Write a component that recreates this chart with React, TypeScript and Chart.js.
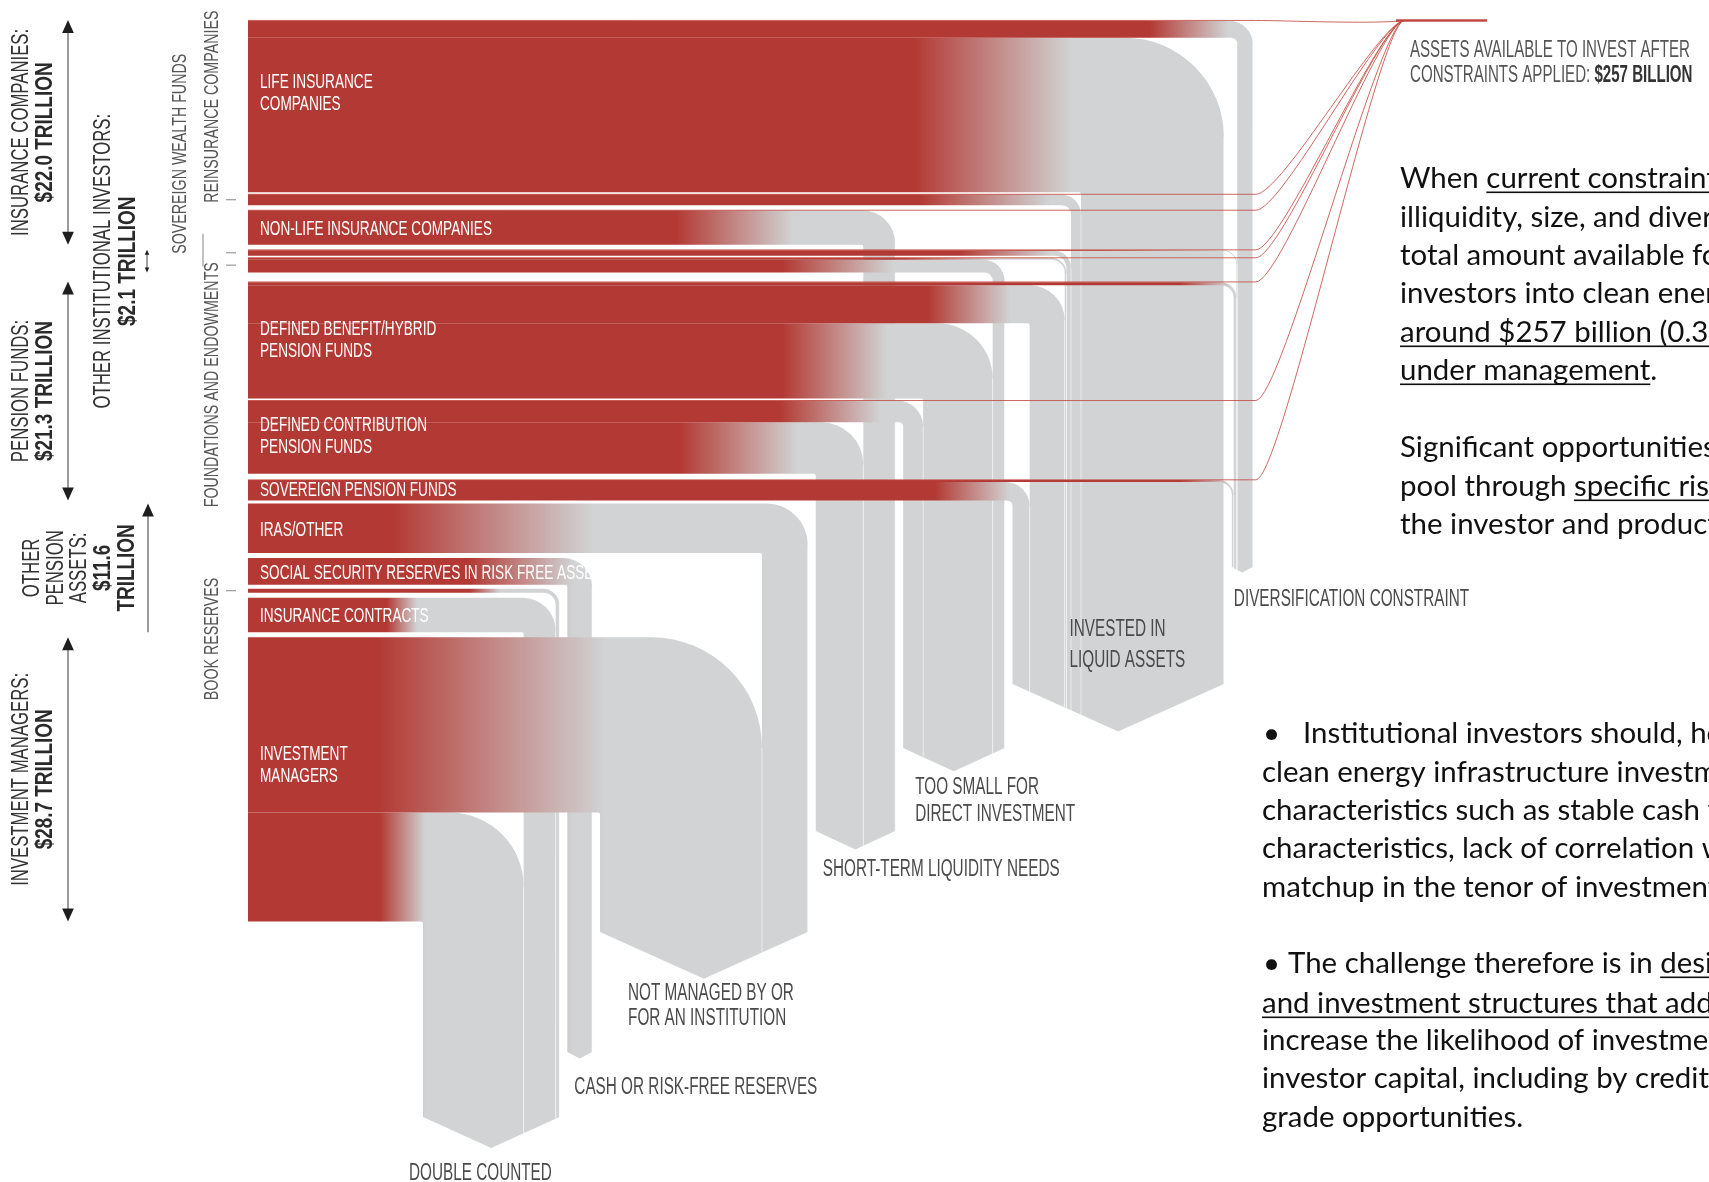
import React, { useEffect, useRef } from "react";
import { Chart, registerables } from "chart.js";

Chart.register(...registerables);

// ---------------- DATA (US$ trillion) ----------------
const sourceLabels = [
  "LIFE INSURANCE\nCOMPANIES",
  "REINSURANCE COMPANIES",
  "NON-LIFE INSURANCE COMPANIES",
  "SOVEREIGN WEALTH FUNDS",
  "FOUNDATIONS AND ENDOWMENTS",
  "DEFINED BENEFIT/HYBRID\nPENSION FUNDS",
  "DEFINED CONTRIBUTION\nPENSION FUNDS",
  "SOVEREIGN PENSION FUNDS",
  "IRAS/OTHER",
  "SOCIAL SECURITY RESERVES IN RISK FREE ASSETS",
  "BOOK RESERVES",
  "INSURANCE CONTRACTS",
  "INVESTMENT\nMANAGERS",
];
const sourceValues = [17.4, 1.1, 3.5, 0.6, 1.5, 11.8, 7.4, 2.1, 5.0, 2.7, 0.4, 3.5, 28.7];

const sinkLabels = [
  "DOUBLE COUNTED",
  "CASH OR RISK-FREE RESERVES",
  "NOT MANAGED BY OR\nFOR AN INSTITUTION",
  "SHORT-TERM LIQUIDITY NEEDS",
  "TOO SMALL FOR\nDIRECT INVESTMENT",
  "INVESTED IN\nLIQUID ASSETS",
  "DIVERSIFICATION CONSTRAINT",
];

// flows into each constraint, one value per source (same order as sourceValues)
const doubleCounted = [0, 0, 0, 0, 0, 0, 0, 0, 0, 0, 0.4, 3.5, 11.0];
const cashReserves = [0, 0, 0, 0, 0, 0, 0, 0, 0, 2.7, 0, 0, 0];
const notManaged = [0, 0, 0, 0, 0, 0, 0, 0, 5.0, 0, 0, 0, 17.7];
const shortTermLiquidity = [0, 0, 3.48, 0, 0, 0, 5.2, 0, 0, 0, 0, 0, 0];
const tooSmall = [0, 0, 0, 0, 1.3, 7.6, 2.18, 0, 0, 0, 0, 0, 0];
const liquidAssets = [15.613, 1.09, 0, 0.5, 0.19, 3.83, 0, 1.87, 0, 0, 0, 0, 0];
const diversification = [1.7, 0, 0, 0.09, 0, 0.3, 0, 0.2, 0, 0, 0, 0, 0];
const available = [0.087, 0.01, 0.02, 0.01, 0.01, 0.07, 0.02, 0.03, 0, 0, 0, 0, 0];

const groupLabels = [
  "INSURANCE COMPANIES:",
  "OTHER INSTITUTIONAL INVESTORS:",
  "PENSION FUNDS:",
  "OTHER PENSION ASSETS:",
  "INVESTMENT MANAGERS:",
];
const groupTotals = ["$22.0 TRILLION", "$2.1 TRILLION", "$21.3 TRILLION", "$11.6 TRILLION", "$28.7 TRILLION"];
const groupFirstSource = [0, 3, 5, 8, 12];
const groupLastSource = [2, 4, 7, 11, 12];

const availableTitle = "ASSETS AVAILABLE TO INVEST AFTER";
const availablePrefix = "CONSTRAINTS APPLIED: ";
const availableTotal = "$257 BILLION";

// ---------------- LAYOUT / STYLE ----------------
const W = 1709;
const H = 1182;
const PX_PER_T_X = 9.15;
const PX_PER_T_Y = 9.9;
const ROW_TOP_PX = 20;
const ROW_LEFT_PX = 248;
const COL_LEFT_PX = 423;
const COL_GAP_PX = 8;
const ROW_GAP_PX = [0, 2, 5, 5, 2, 9, 2, 6, 3, 5, 4, 5, 5];
const SINK_BOTTOM_PX = [1117, 1052, 932, 831, 748, 684, 567];
const SINK_LABEL_DX = [-14, 7, 28, 7, 12, 57, 2];
const SINK_LABEL_DY = [32, 36, 21, 27, 23, -95, 33];
const SINK_LINE_H = [27, 27, 25, 27, 27, 31, 27];
const ROW_LABEL_DY = [-15, 0, 0, 0, 0, -2, -3, -2, 0, 0, 0, 0, -16];
const SIDE_LABELS: Record<number, { x: number; dy: number; align: CanvasTextAlign }> = {
  1: { x: 212, dy: 3, align: "left" },
  3: { x: 180, dy: 1, align: "left" },
  4: { x: 212, dy: -3, align: "right" },
  10: { x: 212, dy: -13, align: "right" },
};
const GROUP_LINE_X = [[22, 46], [104, 129], [22, 46], [33, 57, 80, 104, 128], [22, 46]];
const GROUP_WRAP = [false, false, false, true, false];
const GROUP_ARROW_X = [68, 147, 68, 148, 68];
const GROUP_ARROW_HEADS = [[true, true], [true, true], [true, true], [true, false], [true, true]];
const FADE_PX: Record<string, [number, number]> = {
  "0:5": [915, 1071], "0:6": [1150, 1228],
  "1:5": [920, 1050],
  "2:3": [677, 793],
  "3:5": [960, 1050], "3:6": [1100, 1220],
  "4:4": [783, 893], "4:5": [900, 1000],
  "5:4": [783, 887], "5:5": [928, 1010], "5:6": [1180, 1230],
  "6:3": [680, 797], "6:4": [780, 880],
  "7:5": [935, 1010], "7:6": [1180, 1230],
  "8:2": [393, 593],
  "9:1": [470, 573],
  "10:0": [470, 500],
  "11:0": [387, 417],
  "12:0": [380, 425], "12:2": [378, 605],
};
const CONV_X = 1404;
const END_X = 1487;
const RED = "#b33a34";
const GRAY = "#d1d3d4";
const LINE_RED = "rgba(196, 78, 70, 0.85)";
const CONDENSED = "'Liberation Sans Narrow', 'Liberation Sans', 'DejaVu Sans Condensed', sans-serif";
const BODY = "Lato, 'Open Sans', sans-serif";

type Seg = [string, boolean];
const notes: { x: number; y: number; segs: Seg[] }[] = [
  { x: 1400, y: 188, segs: [["When ", false], ["current constraints such as", true]] },
  { x: 1400, y: 227, segs: [["illiquidity, size, and diversification are", false]] },
  { x: 1400, y: 265, segs: [["total amount available for direct", false]] },
  { x: 1400, y: 303, segs: [["investors into clean energy projects", false]] },
  { x: 1400, y: 342, segs: [["around $257 billion (0.3% of assets", true]] },
  { x: 1400, y: 380, segs: [["under management", true], [".", false]] },
  { x: 1400, y: 457, segs: [["Significant opportunities exist", false]] },
  { x: 1400, y: 496, segs: [["pool through ", false], ["specific risk mitigation", true]] },
  { x: 1400, y: 534, segs: [["the investor and product level.", false]] },
  { x: 1263, y: 743, segs: [["•", false]] },
  { x: 1303, y: 743, segs: [["Institutional investors should, however,", false]] },
  { x: 1262, y: 782, segs: [["clean energy infrastructure investment", false]] },
  { x: 1262, y: 820, segs: [["characteristics such as stable cash flows", false]] },
  { x: 1262, y: 858, segs: [["characteristics, lack of correlation with", false]] },
  { x: 1262, y: 897, segs: [["matchup in the tenor of investments", false]] },
  { x: 1263, y: 973, segs: [["•", false]] },
  { x: 1288, y: 973, segs: [["The challenge therefore is in ", false], ["designing", true]] },
  { x: 1262, y: 1013, segs: [["and investment structures that address", true]] },
  { x: 1262, y: 1050, segs: [["increase the likelihood of investment", false]] },
  { x: 1262, y: 1088, segs: [["investor capital, including by credit", false]] },
  { x: 1262, y: 1127, segs: [["grade opportunities.", false]] },
];

// ---------------- DRAWING HELPERS ----------------
function calib(ctx: CanvasRenderingContext2D, font: string, s: string, target: number) {
  ctx.save();
  ctx.font = font;
  const w = ctx.measureText(s).width;
  ctx.restore();
  return w > 0 ? target / w : 1;
}

function txt(
  ctx: CanvasRenderingContext2D,
  s: string,
  x: number,
  y: number,
  font: string,
  color: string,
  sx: number,
  align: CanvasTextAlign = "left",
  rot = 0,
  baseline: CanvasTextBaseline = "alphabetic"
) {
  ctx.save();
  ctx.translate(x, y);
  if (rot) ctx.rotate(rot);
  ctx.scale(sx, 1);
  ctx.font = font;
  ctx.fillStyle = color;
  ctx.textAlign = align;
  ctx.textBaseline = baseline;
  ctx.fillText(s, 0, 0);
  const w = ctx.measureText(s).width * sx;
  ctx.restore();
  return w;
}

function arrowHead(ctx: CanvasRenderingContext2D, x: number, y: number, dir: number, size: number) {
  ctx.beginPath();
  ctx.moveTo(x, y);
  ctx.lineTo(x - size * 0.45, y + dir * size);
  ctx.lineTo(x + size * 0.45, y + dir * size);
  ctx.closePath();
  ctx.fillStyle = "#1e1e1e";
  ctx.fill();
}

const dropoffPlugin = {
  id: "dropoff",
  beforeDraw(chart: any) {
    const ctx = chart.ctx as CanvasRenderingContext2D;
    ctx.save();
    ctx.fillStyle = "#ffffff";
    ctx.fillRect(0, 0, chart.width, chart.height);
    ctx.restore();
  },
  afterDraw(chart: any) {
    const ctx = chart.ctx as CanvasRenderingContext2D;
    const xs = chart.scales.x;
    const ys = chart.scales.y;
    const X = (v: number) => xs.getPixelForValue(v);
    const Y = (v: number) => ys.getPixelForValue(v);
    const nS = sourceValues.length;
    const sinkFlows = [doubleCounted, cashReserves, notManaged, shortTermLiquidity, tooSmall, liquidAssets, diversification];

    // rows (in trillion units on the y scale)
    const rowTop: number[] = [];
    const rowBottom: number[] = [];
    let acc = 0;
    for (let i = 0; i < nS; i++) {
      acc += ROW_GAP_PX[i] / PX_PER_T_Y;
      rowTop.push(acc);
      acc += sourceValues[i];
      rowBottom.push(acc);
    }
    // columns (in trillion units on the x scale)
    const sinkTotal = sinkFlows.map((a) => a.reduce((s, v) => s + v, 0));
    const colLeft: number[] = [];
    let cx = 0;
    sinkTotal.forEach((t, k) => {
      if (k > 0) cx += COL_GAP_PX / PX_PER_T_X;
      colLeft.push(cx);
      cx += t;
    });
    const subLeft = sinkFlows.map((arr, k) => {
      const out = new Array(nS).fill(0);
      let c = colLeft[k];
      for (let i = nS - 1; i >= 0; i--) {
        out[i] = c;
        c += arr[i];
      }
      return out;
    });
    const sinkGeo = sinkTotal.map((t, k) => {
      const x0 = X(colLeft[k]);
      const x1 = X(colLeft[k] + t);
      const B = SINK_BOTTOM_PX[k];
      const D = 0.22 * (x1 - x0) + 1;
      const mid = (x0 + x1) / 2;
      const half = (x1 - x0) / 2;
      return { x0, x1, B, D, mid, tip: B + D, bottom: (x: number) => B + D * (1 - Math.abs(x - mid) / half) };
    });

    const L = ROW_LEFT_PX;
    // flows, row by row (lower rows drawn over upper columns)
    for (let i = 0; i < nS; i++) {
      let cursor = rowBottom[i];
      for (let k = 0; k < sinkFlows.length; k++) {
        const f = sinkFlows[k][i];
        if (f <= 0) continue;
        const y1 = Y(cursor);
        const y0 = Y(cursor - f);
        cursor -= f;
        const x0 = X(subLeft[k][i]);
        const x1 = X(subLeft[k][i] + f);
        const g = sinkGeo[k];
        const w = x1 - x0;
        const t = y1 - y0;
        const m = Math.max(w, t);
        const R = 0.55 * m + 14;
        const r = Math.max(2, R - m);
        const fade = FADE_PX[`${i}:${k}`] || [x0 - 130, x0 - 10];
        const grad = ctx.createLinearGradient(fade[0], 0, fade[1], 0);
        grad.addColorStop(0, RED);
        grad.addColorStop(1, GRAY);
        ctx.beginPath();
        ctx.moveTo(L, y0);
        ctx.lineTo(x1 - R, y0);
        ctx.arc(x1 - R, y0 + R, R, -Math.PI / 2, 0);
        ctx.lineTo(x1, g.bottom(x1));
        if (x0 < g.mid && g.mid < x1) ctx.lineTo(g.mid, g.tip);
        ctx.lineTo(x0, g.bottom(x0));
        ctx.lineTo(x0, y1 + r);
        ctx.arc(x0 - r, y1 + r, r, 0, -Math.PI / 2, true);
        ctx.lineTo(L, y1);
        ctx.closePath();
        ctx.fillStyle = grad;
        ctx.fill();
        // faint seam between sub-columns
        ctx.beginPath();
        ctx.moveTo(x1, y0 + R);
        ctx.lineTo(x1, g.bottom(x1));
        ctx.strokeStyle = "rgba(255,255,255,0.55)";
        ctx.lineWidth = 1;
        ctx.stroke();
      }
    }

    // thin lines: assets available after constraints
    const convY = Y(available[0] / 2);
    const turnX = sinkGeo[sinkGeo.length - 1].x1 + 3;
    for (let i = 0; i < nS; i++) {
      const a = available[i];
      if (a <= 0) continue;
      const yl = Y(rowTop[i] + a / 2);
      ctx.beginPath();
      ctx.moveTo(L, yl);
      ctx.lineTo(turnX, yl);
      ctx.bezierCurveTo(turnX + 26, yl, CONV_X - 26, convY + 4, CONV_X, convY);
      ctx.strokeStyle = LINE_RED;
      ctx.lineWidth = 1;
      ctx.stroke();
    }
    ctx.beginPath();
    ctx.moveTo(CONV_X - 8, convY);
    ctx.lineTo(END_X, convY);
    ctx.strokeStyle = "#c04a42";
    ctx.lineWidth = 2.5;
    ctx.stroke();

    // ---- text ----
    const rowFont = `21px ${CONDENSED}`;
    const rowSx = calib(ctx, rowFont, "NON-LIFE INSURANCE COMPANIES", 232);
    const sideFont = `20px ${CONDENSED}`;
    const sideSx = calib(ctx, sideFont, "SOVEREIGN WEALTH FUNDS", 200);
    const grpFont = `23px ${CONDENSED}`;
    const grpBold = `bold 23px ${CONDENSED}`;
    const grpSx = calib(ctx, grpFont, "INVESTMENT MANAGERS:", 213);
    const grpBoldSx = calib(ctx, grpBold, "$28.7 TRILLION", 140);
    const sinkFont = `23px ${CONDENSED}`;
    const sinkSx = calib(ctx, sinkFont, "SHORT-TERM LIQUIDITY NEEDS", 237);
    const availSx = calib(ctx, sinkFont, availableTitle, 280);
    const bodyFont = `28px ${BODY}`;
    const bodySx = calib(ctx, bodyFont, "characteristics such as stable cash", 438);

    // row labels
    for (let i = 0; i < nS; i++) {
      const yc = (Y(rowTop[i]) + Y(rowBottom[i])) / 2;
      if (SIDE_LABELS[i]) {
        const s = SIDE_LABELS[i];
        txt(ctx, sourceLabels[i], s.x, yc + s.dy, sideFont, "#555555", sideSx, s.align, -Math.PI / 2, "middle");
        ctx.beginPath();
        ctx.moveTo(226, yc);
        ctx.lineTo(236, yc);
        ctx.strokeStyle = "#9a9a9a";
        ctx.lineWidth = 1.2;
        ctx.stroke();
        continue;
      }
      const lines = sourceLabels[i].split("\n");
      const c = yc + ROW_LABEL_DY[i];
      lines.forEach((ln, j) => {
        txt(ctx, ln, L + 12, c + 7.5 - (lines.length - 1) * 11 + j * 22, rowFont, "#ffffff", rowSx);
      });
    }
    // small bracket near sovereign wealth funds
    ctx.beginPath();
    ctx.moveTo(203, Y(rowTop[3]) - 16);
    ctx.lineTo(203, Y(rowBottom[4]) - 6);
    ctx.strokeStyle = "#9a9a9a";
    ctx.lineWidth = 1.2;
    ctx.stroke();

    // group labels + arrows
    groupLabels.forEach((lab, g) => {
      const top = Y(rowTop[groupFirstSource[g]]);
      const bot = Y(rowBottom[groupLastSource[g]]);
      const yc = (top + bot) / 2;
      const regular = GROUP_WRAP[g] ? lab.split(" ") : [lab];
      const bold = GROUP_WRAP[g] ? groupTotals[g].split(" ") : [groupTotals[g]];
      const xsLines = GROUP_LINE_X[g];
      regular.forEach((s, j) => txt(ctx, s, xsLines[j], yc, grpFont, "#333333", grpSx, "center", -Math.PI / 2, "middle"));
      bold.forEach((s, j) =>
        txt(ctx, s, xsLines[regular.length + j], yc, grpBold, "#2a2a2a", grpBoldSx, "center", -Math.PI / 2, "middle")
      );
      const ax = GROUP_ARROW_X[g];
      const size = bot - top < 40 ? 5 : 13;
      const [hTop, hBot] = GROUP_ARROW_HEADS[g];
      ctx.beginPath();
      ctx.moveTo(ax, top + (hTop ? size - 1 : 0));
      ctx.lineTo(ax, bot - (hBot ? size - 1 : 0));
      ctx.strokeStyle = bot - top < 40 ? "#444" : "#9a9a9a";
      ctx.lineWidth = bot - top < 40 ? 1 : 2;
      ctx.stroke();
      if (hTop) arrowHead(ctx, ax, top, 1, size);
      if (hBot) arrowHead(ctx, ax, bot, -1, size);
    });

    // sink labels
    sinkLabels.forEach((lab, k) => {
      const g = sinkGeo[k];
      const lines = lab.split("\n");
      lines.forEach((ln, j) => {
        txt(ctx, ln, g.x0 + SINK_LABEL_DX[k], g.tip + SINK_LABEL_DY[k] + j * SINK_LINE_H[k], sinkFont, "#4a4a4a", sinkSx);
      });
    });

    // available label
    txt(ctx, availableTitle, 1410, 57, sinkFont, "#555555", availSx);
    const w1 = txt(ctx, availablePrefix, 1410, 82, sinkFont, "#555555", availSx);
    txt(ctx, availableTotal, 1410 + w1, 82, `bold 23px ${CONDENSED}`, "#333333", availSx);

    // notes on the right
    notes.forEach((n) => {
      let x = n.x;
      n.segs.forEach(([s, u]) => {
        const w = txt(ctx, s, x, n.y, bodyFont, "#111111", bodySx);
        if (u) {
          ctx.fillStyle = "#111111";
          ctx.fillRect(x, n.y + 3.5, w, 1.6);
        }
        x += w;
      });
    });
  },
};

export default function App() {
  const ref = useRef<HTMLCanvasElement>(null);
  useEffect(() => {
    const canvas = ref.current;
    if (!canvas) return;
    const chart = new Chart(canvas, {
      type: "scatter",
      data: { datasets: [{ data: [], showLine: false }] },
      options: {
        animation: false,
        responsive: false,
        devicePixelRatio: 1,
        events: [],
        layout: { padding: 0 },
        plugins: { legend: { display: false }, tooltip: { enabled: false }, title: { display: false } },
        scales: {
          x: {
            type: "linear",
            display: false,
            min: -COL_LEFT_PX / PX_PER_T_X,
            max: (W - COL_LEFT_PX) / PX_PER_T_X,
          },
          y: {
            type: "linear",
            display: false,
            reverse: true,
            min: -ROW_TOP_PX / PX_PER_T_Y,
            max: (H - ROW_TOP_PX) / PX_PER_T_Y,
          },
        },
      },
      plugins: [dropoffPlugin],
    } as any);
    return () => chart.destroy();
  }, []);
  return (
    <div style={{ position: "absolute", left: 0, top: 0, width: W, height: H, background: "#fff", overflow: "hidden" }}>
      <canvas ref={ref} width={W} height={H} style={{ display: "block", width: W, height: H }} />
    </div>
  );
}
